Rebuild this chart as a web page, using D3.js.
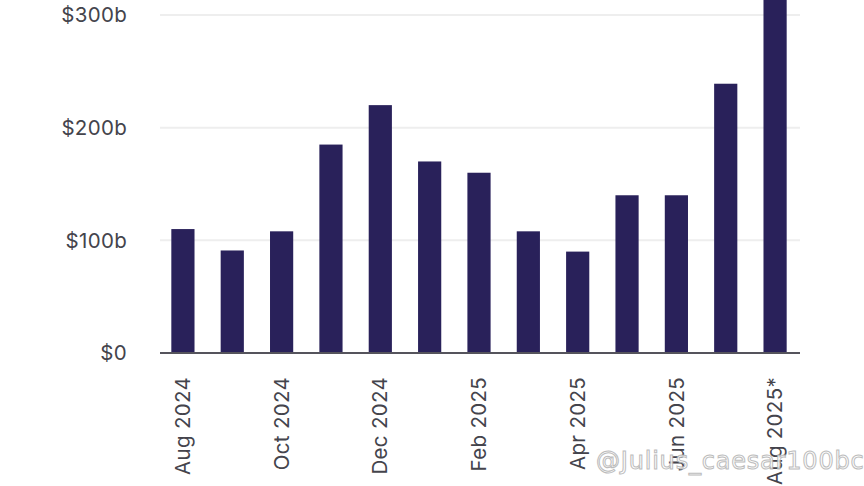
<!DOCTYPE html>
<html><head><meta charset="utf-8">
<script src="https://cdn.jsdelivr.net/npm/d3@7"></script>
<style>body{margin:0;background:#fff}svg{display:block}</style>
</head><body>
<svg id="c" width="864" height="486"></svg>
<script>
const months = ["Aug 2024","Sep 2024","Oct 2024","Nov 2024","Dec 2024","Jan 2025","Feb 2025","Mar 2025","Apr 2025","May 2025","Jun 2025","Jul 2025","Aug 2025*"];
const values = [110, 91, 108, 185, 220, 170, 160, 108, 90, 140, 140, 239, 330];
const yTicks = [0, 100, 200, 300];
const xLabels = ["Aug 2024","Oct 2024","Dec 2024","Feb 2025","Apr 2025","Jun 2025","Aug 2025*"];

const svg = d3.select("#c");
const font = "Inter, 'Open Sans', sans-serif";
const x = d3.scaleBand().domain(months).range([158, 800]).paddingInner(0.53).paddingOuter(0.27);
const y = d3.scaleLinear().domain([0, 300]).range([353, 15]);

// gridlines
svg.append("g").selectAll("line").data(yTicks.filter(d => d > 0)).join("line")
  .attr("x1", 160).attr("x2", 800).attr("y1", d => y(d)).attr("y2", d => y(d))
  .attr("stroke", "#eeeeee").attr("stroke-width", 2);

// y labels
const fmt = d => d === 0 ? "$0" : "$" + d + "b";
svg.append("g").selectAll("text").data(yTicks).join("text")
  .attr("x", 127).attr("y", d => y(d)).attr("dy", "0.35em")
  .attr("text-anchor", "end").attr("font-family", font).attr("font-size", 20.5)
  .attr("letter-spacing", 0.3)
  .attr("fill", "#44444c").text(fmt);

// bars
svg.append("g").selectAll("rect").data(values).join("rect")
  .attr("x", (d, i) => x(months[i])).attr("width", x.bandwidth())
  .attr("y", d => y(d)).attr("height", d => y(0) - y(d))
  .attr("fill", "#29215a");

// axis line
svg.append("line").attr("x1", 160).attr("x2", 800).attr("y1", y(0)).attr("y2", y(0))
  .attr("stroke", "#55545c").attr("stroke-width", 2);

// x labels
svg.append("g").selectAll("text").data(xLabels).join("text")
  .attr("transform", d => `translate(${x(d) + x.bandwidth() / 2},377) rotate(-90)`)
  .attr("dy", "0.35em").attr("text-anchor", "end")
  .attr("font-family", font).attr("font-size", 20.5).attr("letter-spacing", 0.3)
  .attr("fill", "#44444c").text(d => d);

// watermark
svg.append("text").attr("x", 596).attr("y", 469)
  .attr("font-family", "'DejaVu Sans', sans-serif").attr("font-size", 24)
  .attr("letter-spacing", 0.8)
  .attr("fill", "#ffffff").attr("stroke", "#b5b5b5").attr("stroke-width", 1)
  .attr("opacity", 0.9).text("@Julius_caesar100bc");
</script>
</body></html>
